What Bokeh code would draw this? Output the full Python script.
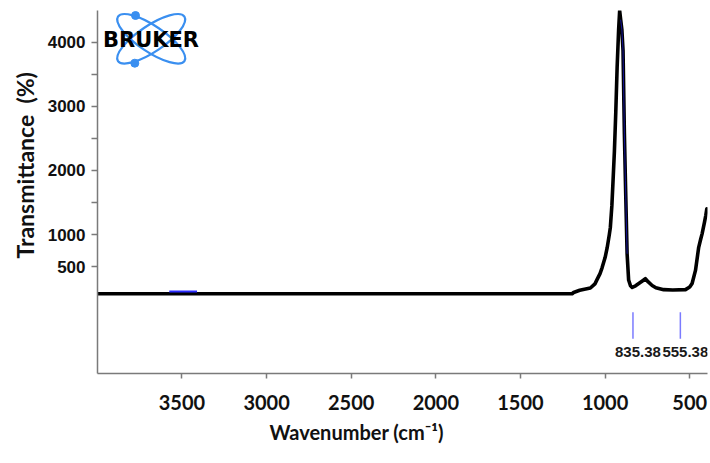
from bokeh.plotting import figure
from bokeh.models import Range1d, FixedTicker, Title, ColumnDataSource
from bokeh.core.properties import value
from bokeh.embed import file_html
from bokeh.resources import INLINE

# ---------------- data ----------------
wavenumber = [4000, 1195, 1186, 1150, 1087, 1060, 1047, 1030, 1018, 1000, 988, 975,
              969, 960, 953, 945, 937, 929, 920, 914, 908, 901, 894, 886, 880, 870,
              861, 850, 840, 820, 801, 780, 762, 745, 722, 700, 654, 600, 525, 500,
              486, 466, 447, 435, 427, 413, 405, 399]
transmittance = [76, 76, 95, 130, 165, 230, 300, 390, 480, 640, 790, 1000,
                 1110, 1450, 1840, 2300, 2900, 3600, 4200, 4490, 4350, 4200, 3870, 2570, 1840, 700,
                 290, 200, 175, 200, 235, 275, 310, 260, 205, 170, 140, 135, 140, 180,
                 235, 440, 800, 930, 1010, 1190, 1300, 1400]

flank_wn = [908, 901, 894, 886, 880, 870]
flank_t = [4350, 4200, 3870, 2570, 1840, 700]

blue_seg_wn = [3575, 3411]
blue_seg_t = [112, 112]

peak_positions = [835.38, 555.38]
peak_labels = ["835.38", "555.38"]
peak_mark_top = [-212, -212]
peak_mark_bottom = [-627, -627]
peak_label_y = [-825, -825]

x_ticks = [3500, 3000, 2500, 2000, 1500, 1000, 500]
y_ticks = [500, 1000, 1500, 2000, 2500, 3000, 3500, 4000]
y_tick_text = {500: "500", 1000: "1000", 1500: "", 2000: "2000",
               2500: "", 3000: "3000", 3500: "", 4000: "4000"}

# ---------------- figure ----------------
X0, X1 = 3999, 395
Y0, Y1 = -1168, 4494
W, H = 710, 463
BL, BR, BT, BB = 97, 3, 10, 90
FW = W - BL - BR
FH = H - BT - BB

p = figure(width=W, height=H, x_range=Range1d(X0, X1), y_range=Range1d(Y0, Y1),
           output_backend="svg", toolbar_location=None,
           min_border_left=BL, min_border_right=BR, min_border_top=BT, min_border_bottom=BB)
p.outline_line_color = None
p.xgrid.visible = False
p.ygrid.visible = False
p.background_fill_color = "white"
p.border_fill_color = "white"

axis_col = "#7a7a7a"
for ax in (p.xaxis[0], p.yaxis[0]):
    ax.axis_line_color = axis_col
    ax.axis_line_width = 1.5
    ax.major_tick_line_color = axis_col
    ax.major_tick_line_width = 1.5
    ax.major_tick_in = 0
    ax.minor_tick_line_color = None

p.xaxis.ticker = FixedTicker(ticks=x_ticks)
p.xaxis.major_tick_out = 5
p.xaxis.major_label_text_font = "Lato"
p.xaxis.major_label_text_font_style = "bold"
p.xaxis.major_label_text_font_size = "20px"
p.xaxis.major_label_text_color = "#111111"
p.xaxis.major_label_standoff = 16

p.yaxis.ticker = FixedTicker(ticks=y_ticks)
p.yaxis.major_label_overrides = y_tick_text
p.yaxis.major_tick_out = 6
p.yaxis.major_label_text_font = "Liberation Sans"
p.yaxis.major_label_text_font_style = "bold"
p.yaxis.major_label_text_font_size = "17px"
p.yaxis.major_label_text_color = "#111111"
p.yaxis.major_label_standoff = 6


# helpers for decoration placement (page px -> data)
def px_x(px):
    return X0 + (px - BL) / FW * (X1 - X0)


def px_y(py):
    return Y1 - (py - BT) / FH * (Y1 - Y0)


# ---------------- spectrum ----------------
p.line(wavenumber, transmittance, line_color="black", line_width=3.6,
       line_join="round", line_cap="round")
p.line(flank_wn, flank_t, line_color="#2020ff", line_width=1, line_alpha=0.6)
p.line(blue_seg_wn, blue_seg_t, line_color="#2a2aff", line_width=2)

# peak markers
src = ColumnDataSource(dict(x=peak_positions, top=peak_mark_top, bottom=peak_mark_bottom,
                            ly=peak_label_y, text=peak_labels))
p.segment(x0="x", y0="top", x1="x", y1="bottom", source=src,
          line_color="#7b7bff", line_width=1.5)
p.text(x="x", y="ly", text="text", source=src, x_offset=5,
       text_font=value("Liberation Sans"), text_font_style="bold",
       text_font_size="15px", text_align="center", text_baseline="middle",
       text_color="#1a1a1a")

# ---------------- Bruker logo ----------------
logo_col = "#3a8ff0"
cx, cy = px_x(150.7), px_y(38.3)
p.ellipse(x=[cx, cx], y=[cy, cy], width=80, height=26, width_units="screen",
          height_units="screen", angle=[-0.59, 0.59], fill_color=None,
          line_color=logo_col, line_width=2.2)
p.scatter(x=[px_x(135), px_x(134.3)], y=[px_y(15), px_y(62.7)], size=8,
          fill_color=logo_col, line_color=logo_col)
p.text(x=[px_x(150.5)], y=[px_y(39.5)], text=["BRUKER"],
       text_font=value("DejaVu Sans"), text_font_style="bold",
       text_font_size="21px", text_align="center", text_baseline="middle",
       text_color="black")

# ---------------- axis titles ----------------
ytitle = Title(text="Transmittance\u00a0 (%)", align="left", offset=115, standoff=12,
               text_font="Lato", text_font_style="bold", text_font_size="23px",
               text_color="#111111")
xtitle = Title(text="Wavenumber (cm⁻¹)", align="left", offset=172,
               text_font="Lato", text_font_style="bold", text_font_size="20px",
               text_color="#111111")
p.add_layout(ytitle, "left")
p.add_layout(xtitle, "below")

open("out.html", "w").write(file_html(p, INLINE))
